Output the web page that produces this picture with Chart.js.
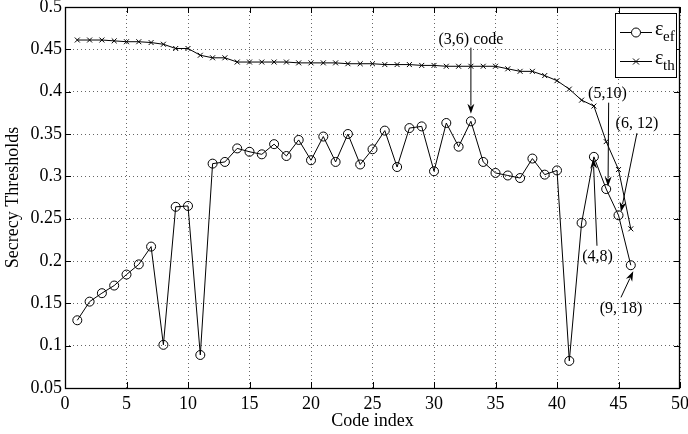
<!DOCTYPE html>
<html>
<head>
<meta charset="utf-8">
<script src="https://cdn.jsdelivr.net/npm/chart.js@4"></script>
<style>
  html, body { margin: 0; padding: 0; background: #fff; }
  #wrap { width: 688px; height: 434px; }
</style>
</head>
<body>
<div id="wrap"><canvas id="chart"></canvas></div>
<script>
// DATA
let codeIndex = [];
for (let i = 1; i <= 46; i++) codeIndex.push(i);

let epsEf = [0.130, 0.152, 0.162, 0.171, 0.184, 0.196, 0.217, 0.101, 0.264, 0.265,
  0.089, 0.315, 0.317, 0.333, 0.329, 0.326, 0.338, 0.324, 0.343, 0.319,
  0.347, 0.317, 0.350, 0.314, 0.332, 0.354, 0.311, 0.357, 0.359, 0.306,
  0.363, 0.335, 0.365, 0.317, 0.304, 0.301, 0.298, 0.321, 0.302, 0.307,
  0.082, 0.245, 0.323, 0.285, 0.254, 0.195];

let epsTh = [0.461, 0.461, 0.461, 0.460, 0.459, 0.459, 0.458, 0.456, 0.451, 0.451,
  0.443, 0.440, 0.440, 0.435, 0.435, 0.435, 0.435, 0.435, 0.434, 0.434,
  0.434, 0.434, 0.433, 0.433, 0.433, 0.432, 0.432, 0.432, 0.431, 0.431,
  0.430, 0.430, 0.430, 0.430, 0.430, 0.427, 0.424, 0.424, 0.419, 0.413,
  0.403, 0.390, 0.383, 0.341, 0.308, 0.238];

let xTicks = [0, 5, 10, 15, 20, 25, 30, 35, 40, 45, 50];
let yTicks = [0.05, 0.1, 0.15, 0.2, 0.25, 0.3, 0.35, 0.4, 0.45, 0.5];
let yTickLabels = ["0.05", "0.1", "0.15", "0.2", "0.25", "0.3", "0.35", "0.4", "0.45", "0.5"];

// ANNOTATIONS (text position, arrow start, arrow tip) in data units
let notes = [
  { text: "(3,6) code", tx: 33.0, ty: 0.461, x0: 33.0, y0: 0.452, x1: 33.0, y1: 0.374 },
  { text: "(5,10)", tx: 44.1, ty: 0.397, x0: 44.2, y0: 0.387, x1: 44.15, y1: 0.288 },
  { text: "(6, 12)", tx: 46.5, ty: 0.362, x0: 46.5, y0: 0.351, x1: 45.2, y1: 0.258 },
  { text: "(4,8)", tx: 43.3, ty: 0.205, x0: 43.25, y0: 0.218, x1: 42.95, y1: 0.321 },
  { text: "(9, 18)", tx: 45.2, ty: 0.143, x0: 45.2, y0: 0.157, x1: 46.2, y1: 0.188 }
];

const FONT = "'Liberation Serif', 'Times New Roman', serif";

function points(ys) {
  return ys.map((v, i) => ({ x: codeIndex[i], y: v }));
}

function arrow(ctx, x0, y0, x1, y1) {
  let a = Math.atan2(y1 - y0, x1 - x0);
  let len = 10, w = 3.5;
  ctx.beginPath();
  ctx.moveTo(x0, y0);
  ctx.lineTo(x1 - Math.cos(a) * len * 0.8, y1 - Math.sin(a) * len * 0.8);
  ctx.stroke();
  ctx.beginPath();
  ctx.moveTo(x1, y1);
  ctx.lineTo(x1 - Math.cos(a) * len - Math.sin(a) * w, y1 - Math.sin(a) * len + Math.cos(a) * w);
  ctx.lineTo(x1 - Math.cos(a) * len * 0.7, y1 - Math.sin(a) * len * 0.7);
  ctx.lineTo(x1 - Math.cos(a) * len + Math.sin(a) * w, y1 - Math.sin(a) * len - Math.cos(a) * w);
  ctx.closePath();
  ctx.fill();
}

// FRAME, INSIDE TICKS, LEGEND, NOTES
const decor = {
  id: "decor",
  afterDraw(chart) {
    let ctx = chart.ctx;
    let a = chart.chartArea;
    let xs = chart.scales.x, ys = chart.scales.y;
    ctx.save();
    ctx.strokeStyle = "#000";
    ctx.fillStyle = "#000";
    ctx.lineWidth = 1.3;
    ctx.strokeRect(a.left + 0.5, a.top + 0.5, a.right - a.left - 1, a.bottom - a.top);
    ctx.lineWidth = 1;

    ctx.beginPath();
    xTicks.forEach(t => {
      let px = Math.round(xs.getPixelForValue(t)) + 0.5;
      ctx.moveTo(px, a.bottom); ctx.lineTo(px, a.bottom - 6);
      ctx.moveTo(px, a.top); ctx.lineTo(px, a.top + 6);
    });
    yTicks.forEach(t => {
      let py = Math.round(ys.getPixelForValue(t)) + 0.5;
      ctx.moveTo(a.left, py); ctx.lineTo(a.left + 6, py);
      ctx.moveTo(a.right, py); ctx.lineTo(a.right - 6, py);
    });
    ctx.stroke();

    // notes
    ctx.font = "16px " + FONT;
    ctx.textAlign = "center";
    ctx.textBaseline = "middle";
    notes.forEach(n => {
      ctx.fillText(n.text, xs.getPixelForValue(n.tx), ys.getPixelForValue(n.ty));
      arrow(ctx, xs.getPixelForValue(n.x0), ys.getPixelForValue(n.y0),
        xs.getPixelForValue(n.x1), ys.getPixelForValue(n.y1));
    });

    // legend
    let bx = a.right - 65, by = a.top + 6, bw = 61, bh = 64;
    ctx.fillStyle = "#fff";
    ctx.fillRect(bx, by, bw, bh);
    ctx.strokeRect(bx + 0.5, by + 0.5, bw, bh);
    ctx.fillStyle = "#000";
    let rows = [{ sub: "ef", style: "circle" }, { sub: "th", style: "cross" }];
    rows.forEach((r, i) => {
      let ly = by + 19 + i * 29;
      ctx.beginPath();
      ctx.moveTo(bx + 5, ly + 0.5); ctx.lineTo(bx + 37, ly + 0.5);
      ctx.stroke();
      let cx = bx + 21;
      ctx.beginPath();
      if (r.style === "circle") {
        ctx.fillStyle = "#fff";
        ctx.arc(cx, ly + 0.5, 4.5, 0, Math.PI * 2);
        ctx.fill();
        ctx.stroke();
        ctx.fillStyle = "#000";
      } else {
        ctx.moveTo(cx - 3, ly - 2.5); ctx.lineTo(cx + 3, ly + 3.5);
        ctx.moveTo(cx + 3, ly - 2.5); ctx.lineTo(cx - 3, ly + 3.5);
        ctx.stroke();
      }
      ctx.textAlign = "left";
      ctx.textBaseline = "alphabetic";
      ctx.font = "20px " + FONT;
      ctx.fillText("\u03b5", bx + 40, ly + 3);
      ctx.font = "15px " + FONT;
      ctx.fillText(r.sub, bx + 48, ly + 9);
    });
    ctx.restore();
  }
};

// CHART
let chart = new Chart(document.getElementById("chart"), {
  type: "scatter",
  data: {
    datasets: [
      {
        label: "eps_ef",
        data: points(epsEf),
        showLine: true,
        borderColor: "#000",
        borderWidth: 1,
        backgroundColor: "rgba(0,0,0,0)",
        pointStyle: "circle",
        pointRadius: 4.5,
        pointBorderWidth: 1,
        pointBorderColor: "#000",
        pointBackgroundColor: "rgba(0,0,0,0)"
      },
      {
        label: "eps_th",
        data: points(epsTh),
        showLine: true,
        borderColor: "#000",
        borderWidth: 1,
        backgroundColor: "rgba(0,0,0,0)",
        pointStyle: "crossRot",
        pointRadius: 3.5,
        pointBorderWidth: 1,
        pointBorderColor: "#000"
      }
    ]
  },
  options: {
    responsive: true,
    maintainAspectRatio: false,
    animation: false,
    layout: { padding: { left: 0, top: 7, right: 8, bottom: 0 } },
    plugins: { legend: { display: false }, tooltip: { enabled: false } },
    scales: {
      x: {
        type: "linear",
        min: 0,
        max: 50,
        afterBuildTicks: s => { s.ticks = xTicks.map(v => ({ value: v })); },
        afterFit: s => { s.height = 46; s.paddingRight = 0; s.paddingLeft = 0; },
        ticks: {
          color: "#000",
          padding: 5,
          font: { family: FONT, size: 18 },
          maxRotation: 0,
          callback: v => String(v)
        },
        grid: { color: "#666", lineWidth: 1, drawTicks: false },
        border: { display: false, dash: [1, 3] },
        title: {
          display: true,
          text: "Code index",
          color: "#000",
          font: { family: FONT, size: 18 },
          padding: { top: 0, bottom: 2 }
        }
      },
      y: {
        type: "linear",
        min: 0.05,
        max: 0.5,
        afterBuildTicks: s => { s.ticks = yTicks.map(v => ({ value: v })); },
        afterFit: s => { s.width = 65; s.paddingTop = 0; s.paddingBottom = 0; },
        ticks: {
          color: "#000",
          padding: 3,
          font: { family: FONT, size: 18 },
          callback: v => yTickLabels[yTicks.findIndex(t => Math.abs(t - v) < 1e-9)]
        },
        grid: { color: "#666", lineWidth: 1, drawTicks: false },
        border: { display: false, dash: [1, 3] },
        title: {
          display: true,
          text: "Secrecy Thresholds",
          color: "#000",
          font: { family: FONT, size: 18 },
          padding: { top: 2, bottom: 0 }
        }
      }
    }
  },
  plugins: [decor]
});
</script>
</body>
</html>
